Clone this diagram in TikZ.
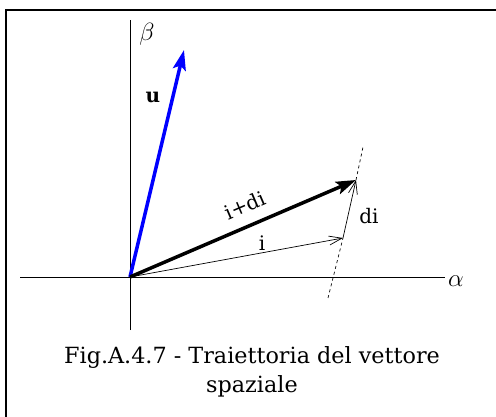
\documentclass[tikz,border=0pt]{standalone}
\usepackage{fontspec}
\setmainfont{DejaVu Serif}
\usetikzlibrary{arrows.meta}
\begin{document}
\begin{tikzpicture}[x=1pt,y=-1pt,
  axis/.style={line width=0.9pt},
  lbl/.style={inner sep=0pt,font=\fontsize{20}{22}\selectfont},
  greek/.style={inner sep=0pt,font=\fontsize{24}{24}\selectfont},
  captext/.style={inner sep=0pt,align=center,font=\fontsize{22.3}{29}\selectfont}]
\useasboundingbox (0,0) rectangle (496,417);
\draw[line width=2pt] (6,417) -- (6,10) -- (496,10);
% axes
\coordinate (O) at (130,277);
\coordinate (ytop) at (130,20);
\coordinate (ybot) at (130,330);
\coordinate (xl) at (20,277);
\coordinate (xr) at (445,277);
\draw[axis] (ybot) -- (ytop);
\draw[axis] (xl) -- (xr);
\node[greek] (alpha) at (456,281) {$\alpha$};
\node[greek] (beta) at (147,34) {$\beta$};
% vectors
\coordinate (U) at (184,50);
\coordinate (I) at (343,238);
\coordinate (ID) at (356,180);
\coordinate (dtop) at (363,147);
\coordinate (dbot) at (328,298);
\draw[blue,line width=3.5pt,-{Stealth[length=20pt,width=13pt,inset=4pt]}] (O) -- (U);
\node[lbl] (ulbl) at (153,97) {\textbf{u}};
\draw[line width=3.5pt,-{Stealth[length=20pt,width=13pt,inset=4pt]}] (O) -- (ID);
\node[lbl,rotate=23.3] (idlbl) at (245,205) {i+di};
\draw[line width=0.7pt,-{Straight Barb[length=13pt,width=9pt]}] (O) -- (I);
\node[lbl] (ilbl) at (262,243) {i};
\draw[line width=0.7pt,dashed] (dbot) -- (I);
\draw[line width=0.7pt,dashed] (ID) -- (dtop);
\draw[line width=0.7pt,-{Straight Barb[length=13pt,width=9pt]}] (I) -- (ID);
\node[lbl] (dilbl) at (369,216) {di};
\node[captext] (caption) at (252,372) {Fig.A.4.7 - Traiettoria del vettore\\spaziale};
\end{tikzpicture}
\end{document}
